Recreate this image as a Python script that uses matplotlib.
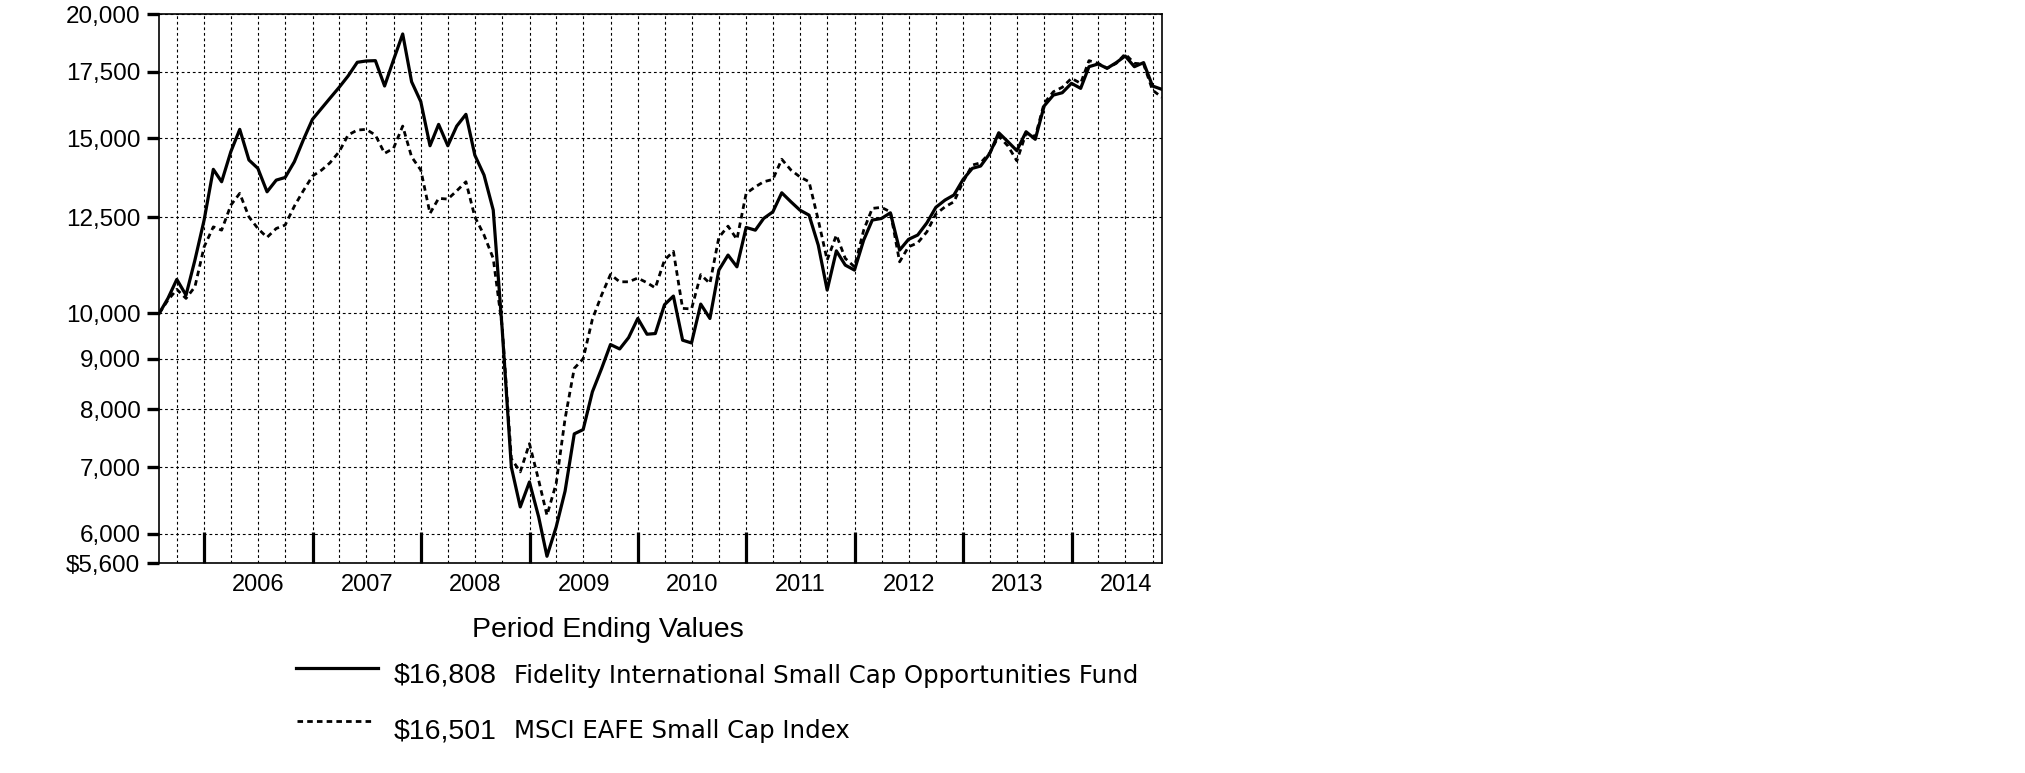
import matplotlib
matplotlib.use("Agg")
import matplotlib.pyplot as plt
import matplotlib.dates as mdates
from matplotlib.lines import Line2D
from matplotlib.ticker import FixedLocator, FixedFormatter, NullLocator, NullFormatter
import pandas as pd

plt.rcParams['font.family'] = ['Liberation Sans', 'DejaVu Sans']

# ---------------- data ----------------
start_date = "2005-08-02"
end_date = "2014-10-31"
period_dates = [pd.Timestamp(start_date)] + list(
    pd.date_range("2005-08-31", end_date, freq=pd.offsets.MonthEnd()))

fund_values = [
    10000, 10350, 10816, 10428, 11312, 12412, 13960, 13564, 14544, 15316,
    14266, 13993, 13252, 13616, 13700, 14210, 14942, 15678, 16086, 16463,
    16886, 17334, 17894, 17948, 17962, 16937, 17990, 19108, 17104, 16331,
    14746, 15494, 14746, 15433, 15860, 14427, 13776, 12702, 9650, 7000,
    6382, 6762, 6236, 5692, 6092, 6620, 7560, 7636, 8334, 8796,
    9300, 9205, 9450, 9880, 9525, 9540, 10200, 10406, 9394, 9334,
    10214, 9880, 11050, 11444, 11136, 12200, 12124, 12458, 12650, 13222,
    12948, 12702, 12554, 11710, 10552, 11556, 11180, 11052, 11848, 12412,
    12458, 12622, 11576, 11868, 11988, 12332, 12782, 13000, 13154, 13638,
    13993, 14068, 14488, 15196, 14884, 14578, 15232, 14968, 16170, 16584,
    16674, 17042, 16844, 17712, 17824, 17646, 17880, 18158, 17712, 17880,
    16937, 16808,
]

index_values = [
    10000, 10308, 10568, 10350, 10632, 11664, 12218, 12124, 12848, 13204,
    12504, 12172, 11924, 12172, 12268, 12818, 13282, 13744, 13938, 14174,
    14544, 15116, 15292, 15316, 15116, 14488, 14658, 15433, 14370, 13938,
    12604, 13052, 13030, 13282, 13564, 12504, 11988, 11356, 9700, 7138,
    6922, 7390, 6790, 6260, 6737, 7830, 8800, 9000, 9860, 10430,
    10940, 10756, 10756, 10850, 10733, 10605, 11312, 11543, 10113, 10100,
    10936, 10716, 11920, 12238, 11868, 13204, 13406, 13564, 13638, 14290,
    13938, 13720, 13564, 12412, 11312, 11988, 11356, 11136, 12124, 12752,
    12782, 12650, 11266, 11664, 11772, 12078, 12584, 12798, 12948, 13564,
    14100, 14174, 14508, 15082, 14736, 14240, 15176, 15060, 16270, 16712,
    16886, 17240, 17042, 17962, 17852, 17646, 17852, 18242, 17852, 17820,
    16778, 16501,
]

fund_label = "Fidelity International Small Cap Opportunities Fund"
index_label = "MSCI EAFE Small Cap Index"
fund_ending = "$16,808"
index_ending = "$16,501"
axis_title = "Period Ending Values"

y_ticks = [5600, 6000, 7000, 8000, 9000, 10000, 12500, 15000, 17500, 20000]
y_tick_labels = ["$5,600", "6,000", "7,000", "8,000", "9,000",
                 "10,000", "12,500", "15,000", "17,500", "20,000"]
years = list(range(2006, 2015))

# ---------------- figure ----------------
W, H = 2025, 773
fig = plt.figure(figsize=(W / 100, H / 100), dpi=100)
ax_l, ax_r, ax_t, ax_b = 159.3, 1161.7, 14.3, 563.3
ax = fig.add_axes([ax_l / W, 1 - ax_b / H, (ax_r - ax_l) / W, (ax_b - ax_t) / H])

x = mdates.date2num(period_dates)
dot_style = (0, (2.0, 1.5))
ax.plot(x, fund_values, color='black', lw=2.3, solid_joinstyle='round', zorder=4)
ax.plot(x, index_values, color='black', lw=2.0, linestyle=dot_style, zorder=3)

ax.set_yscale('log')
ax.set_ylim(y_ticks[0], y_ticks[-1])
ax.set_xlim(x[0], x[-1])

# y axis
ax.yaxis.set_major_locator(FixedLocator(y_ticks))
ax.yaxis.set_major_formatter(FixedFormatter(y_tick_labels))
ax.yaxis.set_minor_locator(NullLocator())
ax.yaxis.set_minor_formatter(NullFormatter())
ax.tick_params(axis='y', which='major', direction='out', length=8.6, width=2.4,
               pad=5, labelsize=17.5, color='black')

# x axis: thick year-boundary ticks, quarterly grid
year_bounds = mdates.date2num([pd.Timestamp(f"{y}-01-01") for y in years])
quarters = pd.date_range("2005-10-01", "2014-10-01", freq="QS")
quarter_nums = [q for q in mdates.date2num(list(quarters)) if q not in set(year_bounds)]
ax.xaxis.set_major_locator(FixedLocator(year_bounds))
ax.xaxis.set_major_formatter(NullFormatter())
ax.xaxis.set_minor_locator(FixedLocator(quarter_nums))
ax.xaxis.set_minor_formatter(NullFormatter())
ax.tick_params(axis='x', which='major', direction='in', length=22.5, width=2.3)
ax.tick_params(axis='x', which='minor', length=0)

grid_kw = dict(color='black', lw=0.8, linestyle=(0, (2.5, 2.5)))
ax.grid(which='both', axis='x', **grid_kw)
ax.grid(which='major', axis='y', **grid_kw)
ax.set_axisbelow(True)

for s in ax.spines.values():
    s.set_linewidth(1.2)
    s.set_color('black')

# year labels at mid-year
for y in years:
    ax.text(mdates.date2num(pd.Timestamp(f"{y}-07-02")), -0.0505, str(y),
            transform=ax.get_xaxis_transform(), ha='center', va='baseline',
            fontsize=17)

# title below axis
fig.text(608 / W, 1 - 636.7 / H, axis_title, ha='center', va='baseline', fontsize=20.5)

# legend
fig.add_artist(Line2D([296 / W, 378 / W], [1 - 668 / H] * 2, color='black', lw=2.3))
fig.add_artist(Line2D([297 / W, 373 / W], [1 - 721 / H] * 2, color='black', lw=2.0,
                      linestyle=dot_style))
fig.text(394 / W, 1 - 682.7 / H, fund_ending, ha='left', va='baseline', fontsize=20.5)
fig.text(514.5 / W, 1 - 682.7 / H, fund_label, ha='left', va='baseline',
         fontsize=17.6, family='DejaVu Sans')
fig.text(394 / W, 1 - 738.3 / H, index_ending, ha='left', va='baseline', fontsize=20.5)
fig.text(514.5 / W, 1 - 738.3 / H, index_label, ha='left', va='baseline',
         fontsize=17.6, family='DejaVu Sans')

fig.savefig("out.png", dpi=100)
